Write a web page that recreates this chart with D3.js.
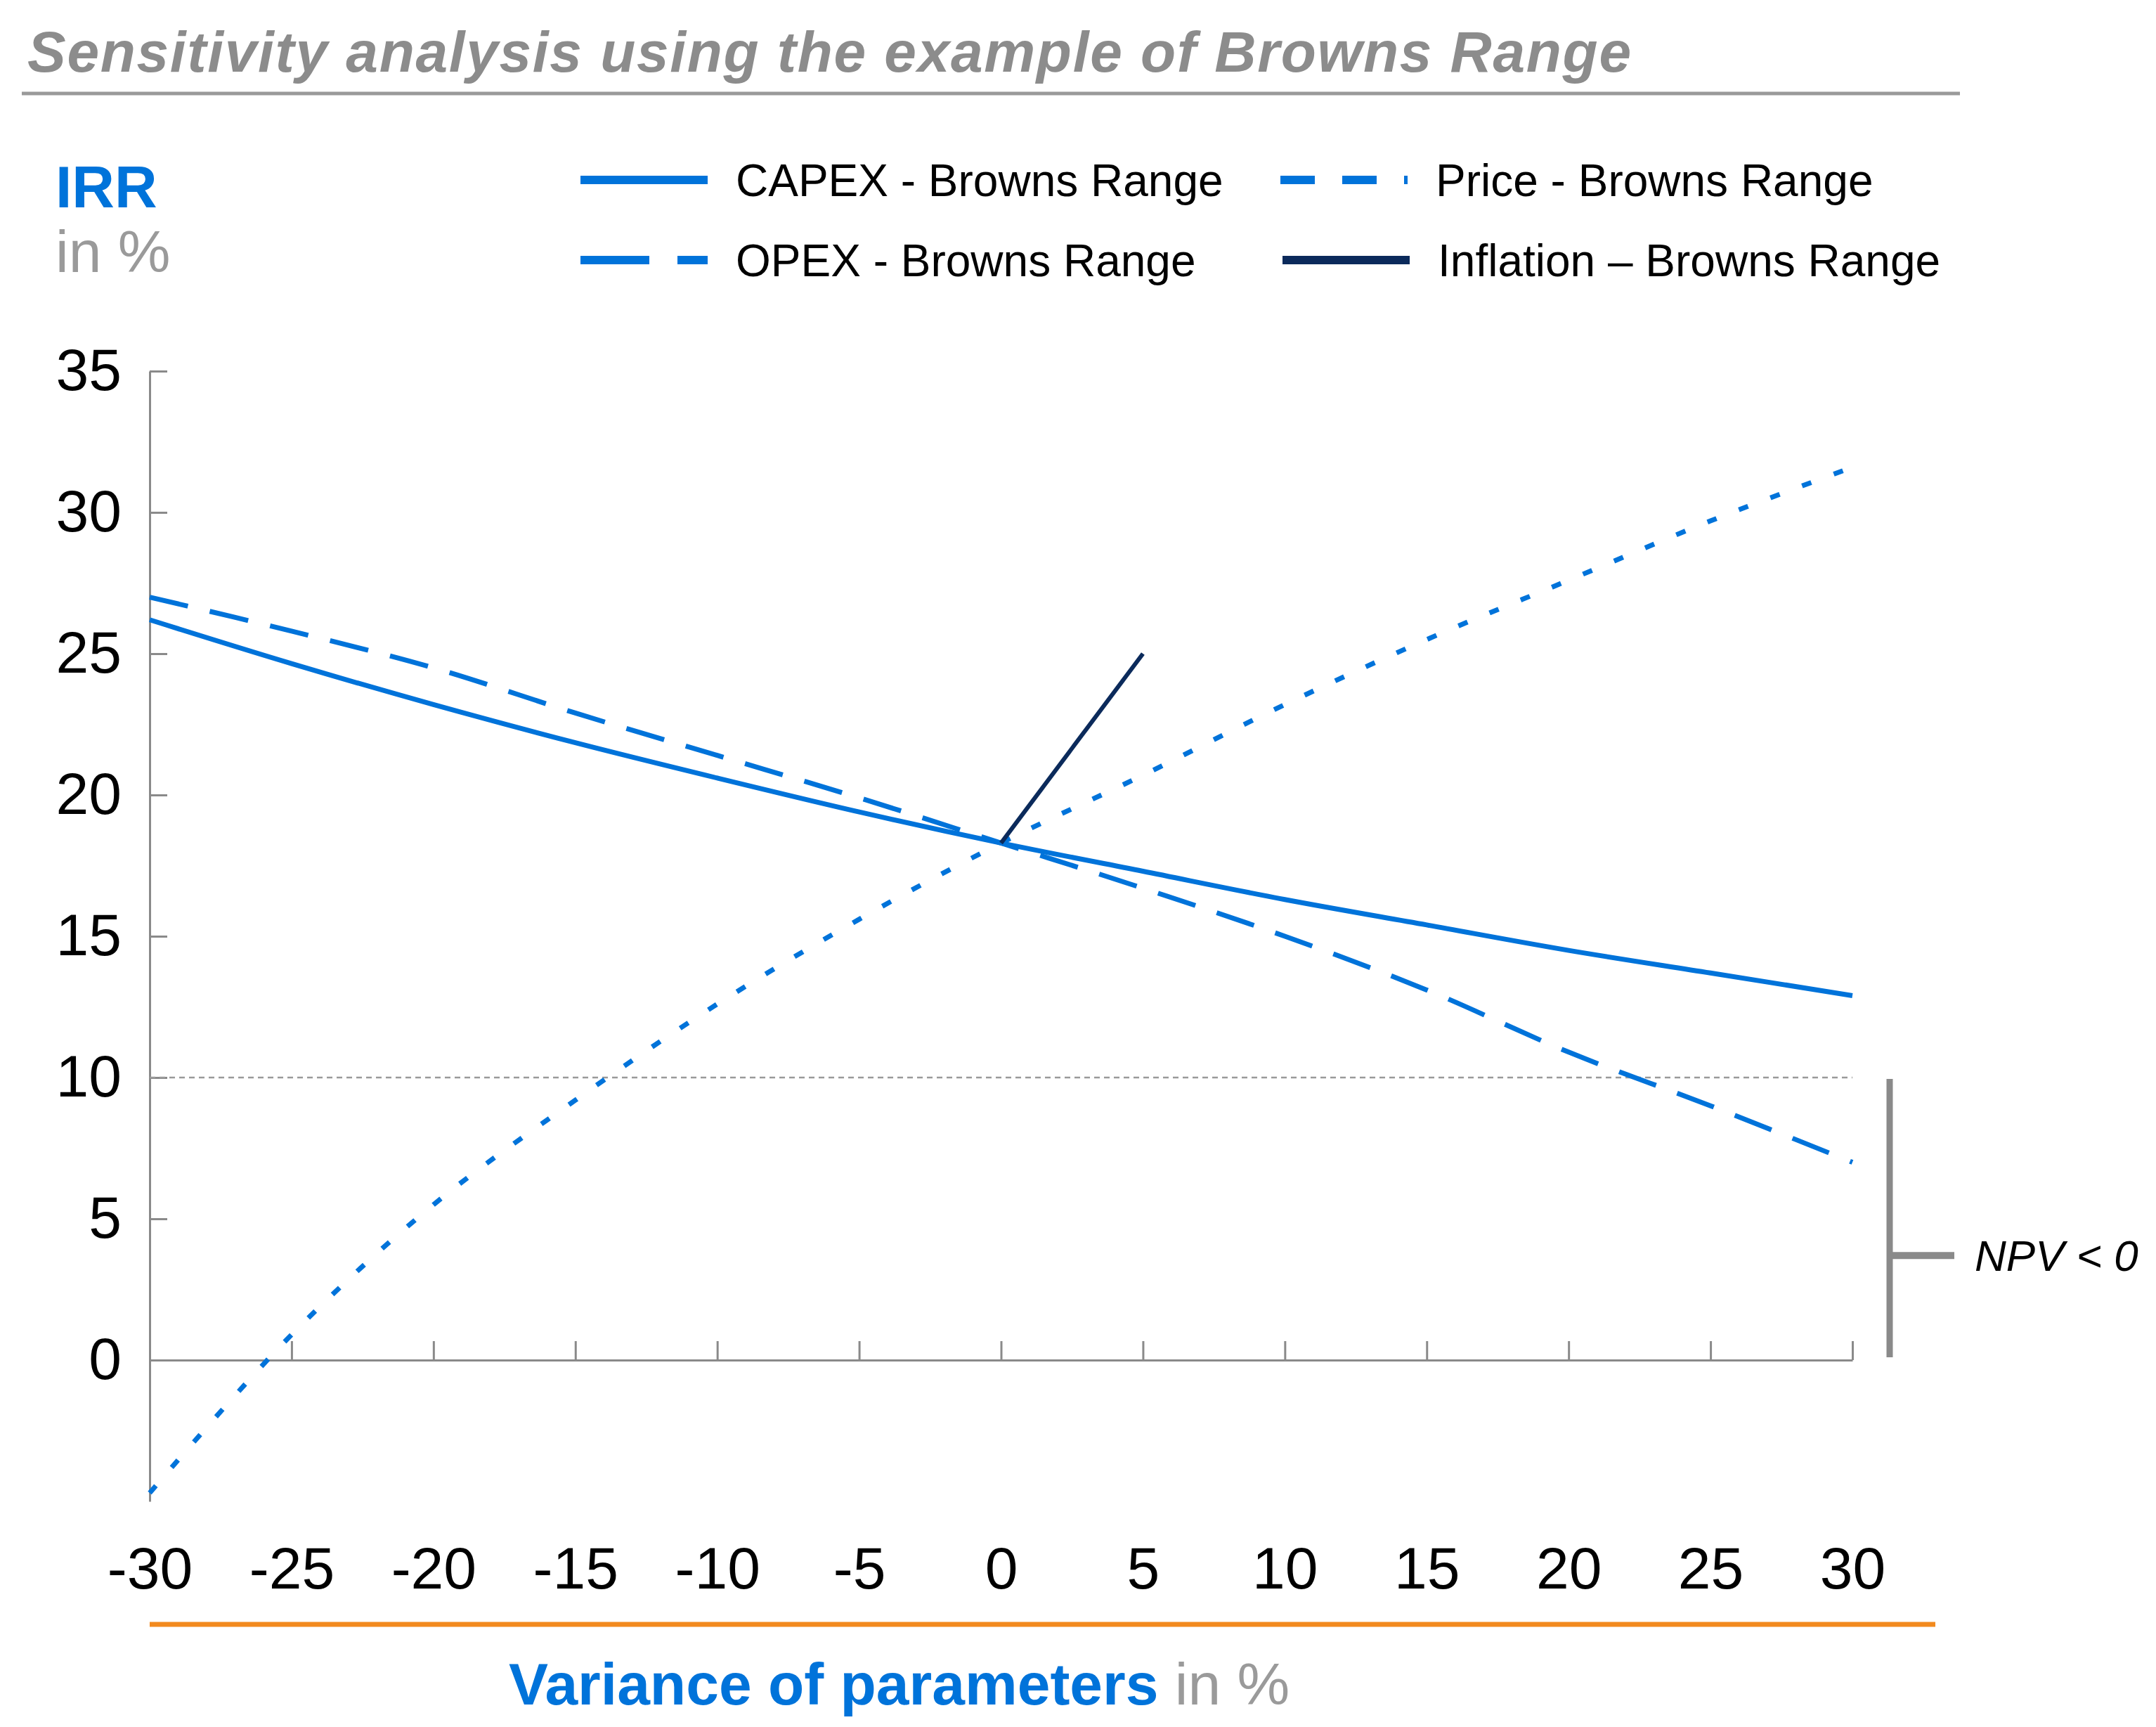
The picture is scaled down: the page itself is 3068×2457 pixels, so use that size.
<!DOCTYPE html>
<html>
<head>
<meta charset="utf-8">
<script src="https://cdn.jsdelivr.net/npm/d3@7"></script>
<style>
  body { margin: 0; background: #fff; }
  text { font-family: "Liberation Sans", Arial, sans-serif; }
</style>
</head>
<body>
<div class="chart"></div>
<script>
var svgWidth = 3068;
var svgHeight = 2457;

// data
var variance = [-30, -25, -20, -15, -10, -5, 0, 5, 10, 15, 20, 25, 30];
var capex = [26.2, 24.65, 23.2, 21.85, 20.6, 19.4, 18.3, 17.3, 16.3, 15.4, 14.5, 13.7, 12.9];
var opex = [27.0, 25.8, 24.5, 22.9, 21.4, 19.9, 18.3, 16.7, 15.0, 13.1, 10.9, 9.0, 7.0];
var price = [-4.7, 0.9, 5.5, 9.2, 12.6, 15.6, 18.3, 20.7, 23.2, 25.5, 27.6, 29.7, 31.6];
var inflationX = [0, 5];
var inflation = [18.3, 25.0];
var yTicks = [0, 5, 10, 15, 20, 25, 30, 35];
var xTicks = variance;
var hurdle = 10;

var blue = "#0073da";
var navy = "#0b2a5b";
var grey = "#8a8a8a";

var svg = d3.select(".chart")
  .append("svg")
  .attr("width", svgWidth)
  .attr("height", svgHeight);

var xScale = d3.scaleLinear().domain([-30, 30]).range([213, 2636]);
var yScale = d3.scaleLinear().domain([-5, 35]).range([2136, 528]);

// title
svg.append("text")
  .attr("x", 39)
  .attr("y", 102)
  .attr("font-size", 82)
  .attr("font-weight", "bold")
  .attr("font-style", "italic")
  .attr("fill", "#8c8c8c")
  .attr("textLength", 2282)
  .attr("lengthAdjust", "spacing")
  .text("Sensitivity analysis using the example of Browns Range");

svg.append("line")
  .attr("x1", 31).attr("x2", 2789)
  .attr("y1", 133).attr("y2", 133)
  .attr("stroke", "#9a9a9a")
  .attr("stroke-width", 5);

// y title
svg.append("text")
  .attr("x", 79).attr("y", 295)
  .attr("font-size", 84)
  .attr("font-weight", "bold")
  .attr("fill", blue)
  .text("IRR");
svg.append("text")
  .attr("x", 79).attr("y", 387)
  .attr("font-size", 84)
  .attr("fill", "#9a9a9a")
  .text("in %");

// legend
var legendItems = [
  { label: "CAPEX - Browns Range", color: blue, dash: null, x: 826, y: 256 },
  { label: "Price - Browns Range", color: blue, dash: "49,39", x: 1822, y: 256 },
  { label: "OPEX - Browns Range", color: blue, dash: "98,40", x: 826, y: 370 },
  { label: "Inflation \u2013 Browns Range", color: navy, dash: null, x: 1825, y: 370 }
];

var legend = svg.selectAll(".legend")
  .data(legendItems)
  .enter()
  .append("g")
  .attr("class", "legend")
  .attr("transform", d => `translate(${d.x}, ${d.y})`);

legend.append("line")
  .attr("x1", 0).attr("x2", 181)
  .attr("stroke", d => d.color)
  .attr("stroke-width", 12)
  .attr("stroke-dasharray", d => d.dash);

legend.append("text")
  .attr("x", 221)
  .attr("y", 23)
  .attr("font-size", 64)
  .attr("fill", "#000")
  .text(d => d.label);

// axes
var leftAxis = d3.axisLeft(yScale)
  .tickValues(yTicks)
  .tickSizeInner(-25)
  .tickSizeOuter(0)
  .tickPadding(40);

var yAxisG = svg.append("g")
  .attr("transform", "translate(213, 0)")
  .call(leftAxis);
yAxisG.selectAll("text").attr("font-size", 84).attr("fill", "#000").attr("font-family", "Liberation Sans, Arial, sans-serif");

var bottomAxis = d3.axisBottom(xScale)
  .tickValues(xTicks)
  .tickSizeInner(-27)
  .tickSizeOuter(0)
  .tickFormat("");

var xAxisG = svg.append("g")
  .attr("transform", `translate(0, ${yScale(0)})`)
  .call(bottomAxis);

// tick labels sit below the plot, with a plain hyphen for the minus
var labelAxis = d3.axisBottom(xScale)
  .tickValues(xTicks)
  .tickSize(0)
  .tickPadding(0)
  .tickFormat(d => String(d));

var xLabelG = svg.append("g")
  .attr("transform", "translate(0, 2200)")
  .call(labelAxis);
xLabelG.select(".domain").remove();
xLabelG.selectAll("text").attr("font-size", 84).attr("fill", "#000").attr("font-family", "Liberation Sans, Arial, sans-serif");

svg.selectAll(".domain, .tick line")
  .attr("stroke", grey)
  .attr("stroke-width", 3);

// hurdle line at 10 %
svg.append("line")
  .attr("x1", xScale(-30)).attr("x2", xScale(30))
  .attr("y1", yScale(hurdle)).attr("y2", yScale(hurdle))
  .attr("stroke", "#9a9a9a")
  .attr("stroke-width", 2.5)
  .attr("stroke-dasharray", "8,6");

// series lines
var line = d3.line()
  .x(d => xScale(d[0]))
  .y(d => yScale(d[1]))
  .curve(d3.curveCatmullRom.alpha(0.5));

var series = [
  { values: d3.zip(variance, capex), color: blue, width: 7, dash: null },
  { values: d3.zip(variance, opex), color: blue, width: 7, dash: "56,32" },
  { values: d3.zip(variance, price), color: blue, width: 7, dash: "14,34" },
  { values: d3.zip(inflationX, inflation), color: navy, width: 6, dash: null }
];

svg.selectAll(".series")
  .data(series)
  .enter()
  .append("path")
  .attr("class", "series")
  .attr("d", d => line(d.values))
  .attr("fill", "none")
  .attr("stroke", d => d.color)
  .attr("stroke-width", d => d.width)
  .attr("stroke-dasharray", d => d.dash);

// NPV < 0 bracket
svg.append("line")
  .attr("x1", 2689).attr("x2", 2689)
  .attr("y1", yScale(hurdle) + 2).attr("y2", yScale(0) - 4)
  .attr("stroke", grey)
  .attr("stroke-width", 9);
svg.append("line")
  .attr("x1", 2689).attr("x2", 2781)
  .attr("y1", yScale(hurdle / 2 - 1.3)).attr("y2", yScale(hurdle / 2 - 1.3))
  .attr("stroke", grey)
  .attr("stroke-width", 10);
svg.append("text")
  .attr("x", 2810)
  .attr("y", yScale(hurdle / 2 - 1.3))
  .attr("dy", "0.35em")
  .attr("font-size", 62)
  .attr("font-style", "italic")
  .attr("fill", "#000")
  .text("NPV < 0");

// x title
svg.append("line")
  .attr("x1", 213).attr("x2", 2754)
  .attr("y1", 2311).attr("y2", 2311)
  .attr("stroke", "#f28a1e")
  .attr("stroke-width", 7);

var xTitle = svg.append("text")
  .attr("x", 724).attr("y", 2425)
  .attr("font-size", 84);
xTitle.append("tspan")
  .attr("font-weight", "bold")
  .attr("fill", blue)
  .text("Variance of parameters");
xTitle.append("tspan")
  .attr("fill", "#9a9a9a")
  .text(" in %");
</script>
</body>
</html>
